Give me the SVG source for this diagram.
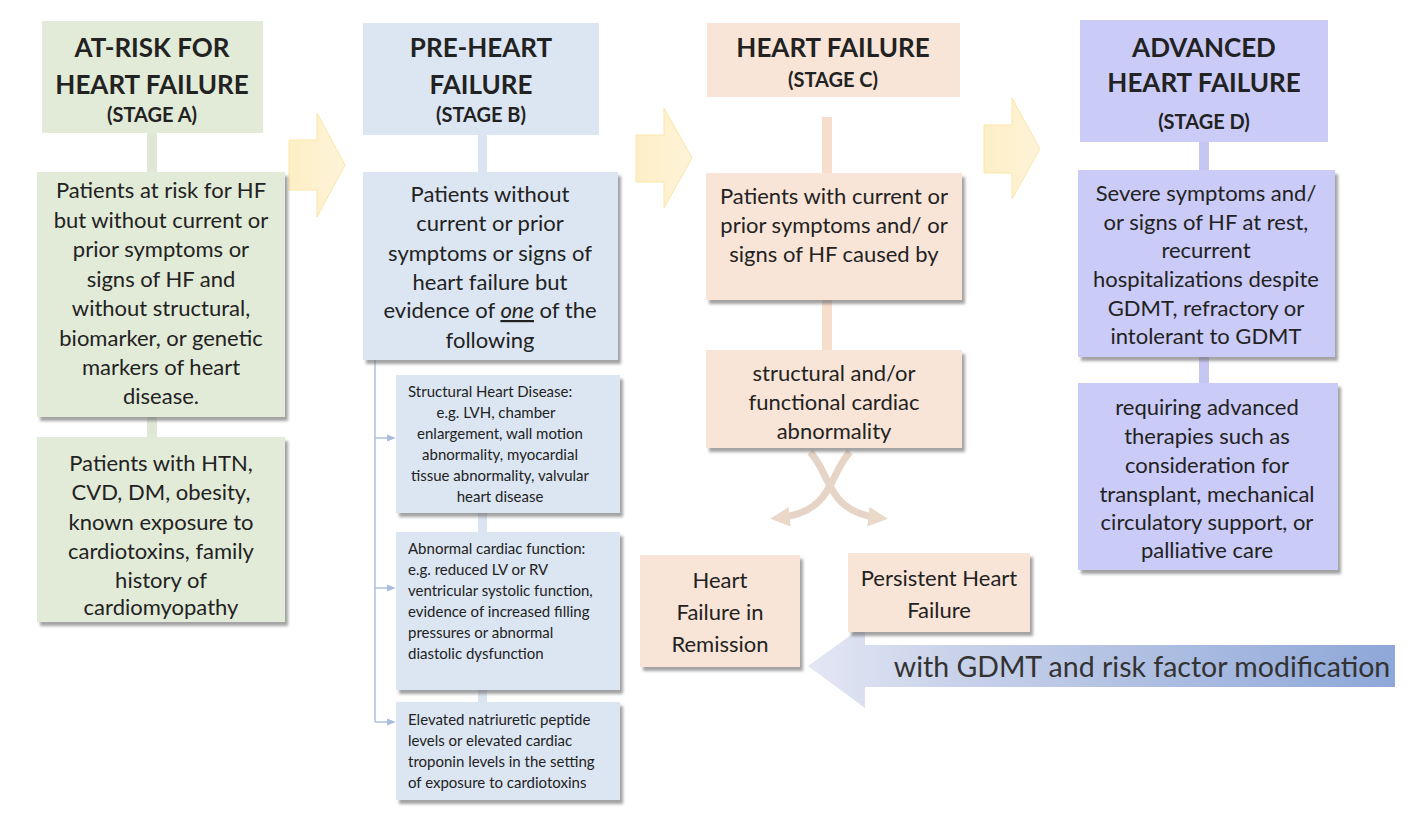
<svg xmlns="http://www.w3.org/2000/svg" width="1424" height="834" viewBox="0 0 1424 834">
<defs>
<style>
text{font-family:Lato,"Open Sans","Liberation Sans",sans-serif;fill:#222;text-anchor:middle}
.t{font-size:26px;font-weight:bold}
.s{font-size:20px;font-weight:bold}
.b{font-size:22px}
.sm{font-size:15px}
.l{text-anchor:start}
.ga{fill:#e2ebd8}
.bl{fill:#dce6f2}
.pc{fill:#f9e5d7}
.lv{fill:#cbcbf8}
</style>
<filter id="sh" x="-5%" y="-5%" width="115%" height="115%">
<feDropShadow dx="3" dy="4" stdDeviation="1.6" flood-color="#666" flood-opacity="0.6"/>
</filter>
<linearGradient id="yg" x1="0" y1="0" x2="1" y2="0">
<stop offset="0" stop-color="#fdefc6"/>
<stop offset="1" stop-color="#fdf3d8"/>
</linearGradient>
<linearGradient id="bg" x1="808" y1="0" x2="1395" y2="0" gradientUnits="userSpaceOnUse">
<stop offset="0" stop-color="#e4e7f4"/>
<stop offset="0.25" stop-color="#c9d2ea"/>
<stop offset="1" stop-color="#8ea7d8"/>
</linearGradient>
<marker id="sa" viewBox="0 0 10 10" refX="8" refY="5" markerWidth="6" markerHeight="6" orient="auto">
<path d="M0,1 L10,5 L0,9 Z" fill="#a9bedd"/>
</marker>
<marker id="ca" viewBox="0 0 10 10" refX="6" refY="5" markerWidth="2.8" markerHeight="2.8" orient="auto">
<path d="M0,0 L10,5 L0,10 Z" fill="#ead8c9"/>
</marker>
</defs>
<rect width="1424" height="834" fill="#fff"/>

<g id="connectors">
<rect x="147" y="133" width="10" height="40" fill="#dfe8d5"/>
<rect x="147" y="417" width="10" height="20" fill="#dfe8d5"/>
<rect x="478" y="135" width="9" height="38" fill="#dbe5f1"/>
<rect x="478" y="513" width="9" height="19" fill="#dbe5f1"/>
<rect x="478" y="690" width="9" height="12" fill="#dbe5f1"/>
<line x1="375" y1="360" x2="375" y2="722" stroke="#aac0df" stroke-width="1.5"/>
<line x1="375" y1="438" x2="394" y2="438" stroke="#aac0df" stroke-width="1.5" marker-end="url(#sa)"/>
<line x1="375" y1="588" x2="394" y2="588" stroke="#aac0df" stroke-width="1.5" marker-end="url(#sa)"/>
<line x1="375" y1="722" x2="394" y2="722" stroke="#aac0df" stroke-width="1.5" marker-end="url(#sa)"/>
<rect x="822" y="117" width="10" height="56" fill="#f6ddcc"/>
<rect x="822" y="300" width="10" height="50" fill="#f6ddcc"/>
<rect x="1199" y="142" width="10" height="28" fill="#c6c6f2"/>
<rect x="1199" y="357" width="10" height="26" fill="#c6c6f2"/>
<path d="M810,452 C832,475 826,512 880,518" fill="none" stroke="#e6d4c6" stroke-width="7" marker-end="url(#ca)"/>
<path d="M850,452 C828,475 834,512 778,518" fill="none" stroke="#e6d4c6" stroke-width="7" marker-end="url(#ca)"/>
<polygon points="289,140 317,140 317,113 345,165 317,217 317,190 289,190" fill="url(#yg)" stroke="#fbe6a8" stroke-width="1"/>
<polygon points="636,135 664,135 664,108 692,158 664,208 664,182 636,182" fill="url(#yg)" stroke="#fbe6a8" stroke-width="1"/>
<polygon points="984,125 1012,125 1012,98 1040,149 1012,199 1012,173 984,173" fill="url(#yg)" stroke="#fbe6a8" stroke-width="1"/>
<polygon points="1395,645 865,645 865,625 808,666 865,708 865,687 1395,687" fill="url(#bg)"/>
<text x="1142" y="677" style="font-size:28.5px;fill:#333">with GDMT and risk factor modification</text>
</g>

<g id="stageA-header">
<rect x="42" y="21" width="221" height="112" class="ga"/>
<text class="t" x="152" y="57">AT-RISK FOR</text>
<text class="t" x="152" y="94">HEART FAILURE</text>
<text class="s" x="152" y="122">(STAGE A)</text>
</g>
<g id="stageA-def">
<rect x="37" y="172" width="248" height="245" class="ga" filter="url(#sh)"/>
<text class="b" x="161" y="198">Patients at risk for HF</text>
<text class="b" x="161" y="228">but without current or</text>
<text class="b" x="161" y="257">prior symptoms or</text>
<text class="b" x="161" y="287">signs of HF and</text>
<text class="b" x="161" y="316">without structural,</text>
<text class="b" x="161" y="346">biomarker, or genetic</text>
<text class="b" x="161" y="375">markers of heart</text>
<text class="b" x="161" y="404">disease.</text>
</g>
<g id="stageA-examples">
<rect x="37" y="437" width="248" height="185" class="ga" filter="url(#sh)"/>
<text class="b" x="161" y="471">Patients with HTN,</text>
<text class="b" x="161" y="500">CVD, DM, obesity,</text>
<text class="b" x="161" y="530">known exposure to</text>
<text class="b" x="161" y="559">cardiotoxins, family</text>
<text class="b" x="161" y="588">history of</text>
<text class="b" x="161" y="615">cardiomyopathy</text>
</g>

<g id="stageB-header">
<rect x="363" y="23" width="236" height="112" class="bl"/>
<text class="t" x="481" y="57">PRE-HEART</text>
<text class="t" x="481" y="94">FAILURE</text>
<text class="s" x="481" y="122">(STAGE B)</text>
</g>
<g id="stageB-def">
<rect x="363" y="172" width="255" height="188" class="bl" filter="url(#sh)"/>
<text class="b" x="490" y="202">Patients without</text>
<text class="b" x="490" y="231">current or prior</text>
<text class="b" x="490" y="261">symptoms or signs of</text>
<text class="b" x="490" y="290">heart failure but</text>
<text class="b" x="490" y="318">evidence of <tspan font-style="italic" text-decoration="underline">one</tspan> of the</text>
<text class="b" x="490" y="348">following</text>
</g>
<g id="stageB-structural">
<rect x="396" y="375" width="224" height="138" class="bl" filter="url(#sh)"/>
<text class="sm l" x="408" y="397">Structural Heart Disease:</text>
<text class="sm" x="496" y="418">e.g. LVH, chamber</text>
<text class="sm" x="500" y="439">enlargement, wall motion</text>
<text class="sm" x="500" y="460">abnormality, myocardial</text>
<text class="sm" x="500" y="481">tissue abnormality, valvular</text>
<text class="sm" x="500" y="502">heart disease</text>
</g>
<g id="stageB-function">
<rect x="396" y="532" width="224" height="158" class="bl" filter="url(#sh)"/>
<text class="sm l" x="408" y="554">Abnormal cardiac function:</text>
<text class="sm l" x="408" y="575">e.g. reduced LV or RV</text>
<text class="sm l" x="408" y="596">ventricular systolic function,</text>
<text class="sm l" x="408" y="617">evidence of increased filling</text>
<text class="sm l" x="408" y="638">pressures or abnormal</text>
<text class="sm l" x="408" y="659">diastolic dysfunction</text>
</g>
<g id="stageB-biomarkers">
<rect x="396" y="702" width="224" height="98" class="bl" filter="url(#sh)"/>
<text class="sm l" x="408" y="725">Elevated natriuretic peptide</text>
<text class="sm l" x="408" y="746">levels or elevated cardiac</text>
<text class="sm l" x="408" y="767">troponin levels in the setting</text>
<text class="sm l" x="408" y="788">of exposure to cardiotoxins</text>
</g>

<g id="stageC-header">
<rect x="707" y="23" width="253" height="74" class="pc"/>
<text class="t" x="833" y="57">HEART FAILURE</text>
<text class="s" x="833" y="87">(STAGE C)</text>
</g>
<g id="stageC-def">
<rect x="706" y="173" width="256" height="127" class="pc" filter="url(#sh)"/>
<text class="b" x="834" y="204">Patients with current or</text>
<text class="b" x="834" y="233">prior symptoms and/ or</text>
<text class="b" x="834" y="262">signs of HF caused by</text>
</g>
<g id="stageC-abn">
<rect x="706" y="350" width="256" height="98" class="pc" filter="url(#sh)"/>
<text class="b" x="834" y="381">structural and/or</text>
<text class="b" x="834" y="410">functional cardiac</text>
<text class="b" x="834" y="439">abnormality</text>
</g>
<g id="remission">
<rect x="640" y="555" width="160" height="112" class="pc" filter="url(#sh)"/>
<text class="b" x="720" y="588">Heart</text>
<text class="b" x="720" y="620">Failure in</text>
<text class="b" x="720" y="652">Remission</text>
</g>
<g id="persistent">
<rect x="848" y="553" width="182" height="79" class="pc" filter="url(#sh)"/>
<text class="b" x="939" y="586">Persistent Heart</text>
<text class="b" x="939" y="618">Failure</text>
</g>

<g id="stageD-header">
<rect x="1080" y="20" width="248" height="122" class="lv"/>
<text class="t" x="1204" y="57">ADVANCED</text>
<text class="t" x="1204" y="92">HEART FAILURE</text>
<text class="s" x="1204" y="129">(STAGE D)</text>
</g>
<g id="stageD-def">
<rect x="1078" y="170" width="257" height="187" class="lv" filter="url(#sh)"/>
<text class="b" x="1206" y="201">Severe symptoms and/</text>
<text class="b" x="1206" y="230">or signs of HF at rest,</text>
<text class="b" x="1206" y="258">recurrent</text>
<text class="b" x="1206" y="287">hospitalizations despite</text>
<text class="b" x="1206" y="316">GDMT, refractory or</text>
<text class="b" x="1206" y="344">intolerant to GDMT</text>
</g>
<g id="stageD-therapy">
<rect x="1078" y="383" width="260" height="187" class="lv" filter="url(#sh)"/>
<text class="b" x="1207" y="415">requiring advanced</text>
<text class="b" x="1207" y="444">therapies such as</text>
<text class="b" x="1207" y="473">consideration for</text>
<text class="b" x="1207" y="502">transplant, mechanical</text>
<text class="b" x="1207" y="530">circulatory support, or</text>
<text class="b" x="1207" y="558">palliative care</text>
</g>
</svg>
